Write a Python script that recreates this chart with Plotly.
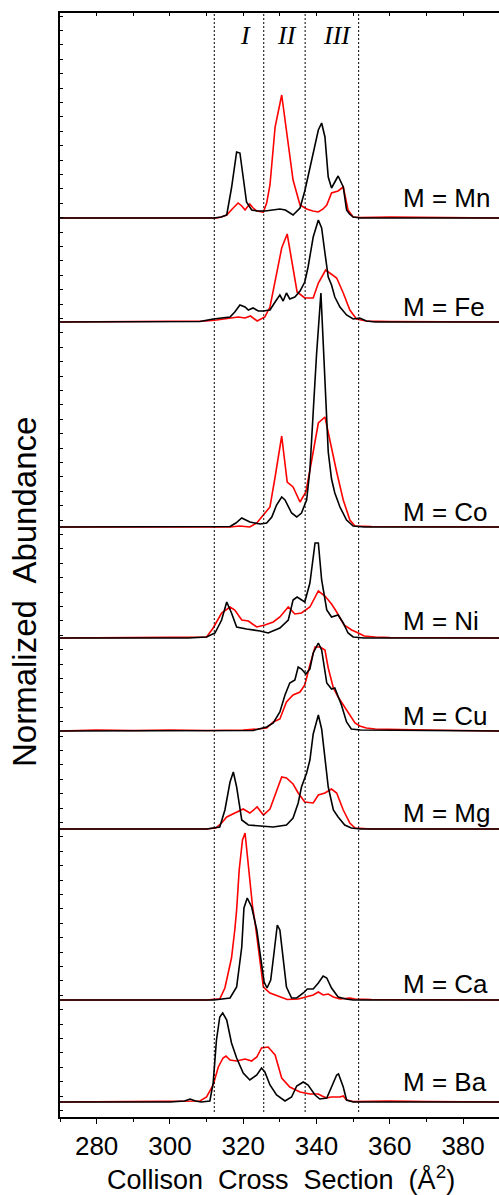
import plotly.graph_objects as go

# ---------------- data (collision cross section in Å², normalized abundance in arbitrary units)
metals = ["Mn", "Fe", "Co", "Ni", "Cu", "Mg", "Ca", "Ba"]
offsets = [899, 795, 590, 479, 386, 288, 117, 15]
label_lift = [20, 15, 15, 17, 15, 16, 16, 20]

mn_black_x = [270, 300, 312, 314, 315.5, 316.8, 318.2, 319.1, 320, 320.9, 322.3, 324, 326, 328, 330, 331.5, 333.6, 335.5, 336.8, 338.2, 339.5, 340.5, 341.4, 342.3, 343.2, 344.1, 345, 345.9, 347.3, 348.2, 349, 350, 352, 390]
mn_black_y = [0, 0, 0, 1, 3, 30, 66, 65, 40, 16, 8, 7, 7, 8, 9, 8, 3, 10, 27, 50, 72, 88, 95, 81, 41, 30, 36, 42, 31, 8, 4, 1, 0, 0]
mn_red_x = [270, 300, 312.7, 314, 315.5, 317, 318.6, 319.6, 320.5, 320.9, 321.8, 322.7, 323.7, 325.5, 326.4, 327.3, 328.7, 330.5, 331.8, 333.6, 335.5, 337.3, 339, 340.5, 341.8, 342.8, 344.1, 345.9, 347.3, 348.6, 350, 352, 360, 370, 390]
mn_red_y = [0, 0.5, 0, 1, 3, 9, 15, 12, 8, 10, 14, 10, 7, 6, 15, 33, 91, 123, 85, 38, 13, 9, 7, 6, 9, 13, 25, 27, 31, 8, 1, 0.5, 1, 0.5, 0]

fe_black_x = [270, 300, 308.2, 311.8, 314, 316.4, 317.7, 319.1, 320.5, 321.4, 322.7, 324.1, 325.5, 327.3, 328.7, 330, 330.9, 331.8, 332.7, 334.1, 335.5, 336.8, 337.7, 339.1, 340.5, 341.4, 342.3, 343.2, 344.1, 345, 346.4, 348.2, 350, 351.8, 353.6, 356, 390]
fe_black_y = [0, 0, 0.5, 3, 4, 5, 10, 17, 15, 12, 14, 11, 11, 12, 20, 27, 21, 29, 23, 25, 31, 40, 55, 85, 102, 94, 69, 45, 37, 25, 15, 7, 3, 4, 1, 0, 0]
fe_red_x = [270, 305, 310, 312.7, 316.4, 318.6, 320.5, 322, 323.8, 325.9, 327.3, 329.1, 330.5, 332, 333.2, 334.7, 336.8, 339.1, 340.5, 342.5, 345.5, 347.3, 349.1, 350.9, 353.6, 360, 390]
fe_red_y = [0, 0.5, 1, 2, 4, 5, 4, 6, 1, 5, 15, 49, 74, 88, 62, 30, 24, 24, 39, 52, 44, 29, 12, 3, 1, 0.5, 0]

co_black_x = [270, 310, 316.4, 318, 319.6, 321.8, 324.6, 326.4, 327.8, 329.1, 330.5, 331.4, 333.2, 334.6, 335.9, 337.3, 338.2, 339.1, 340, 341.2, 342.3, 343.2, 344.1, 345, 346.4, 348.2, 350, 353, 390]
co_black_y = [0, 0, 0.5, 4, 9, 5, 3, 4, 10, 22, 30, 27, 14, 10, 14, 27, 57, 115, 172, 234, 150, 75, 48, 34, 20, 7, 1, 0, 0]
co_red_x = [270, 316.4, 319, 321.8, 323.7, 325.5, 327.3, 328.7, 330.5, 332, 333.6, 335.5, 337.1, 338.7, 340.5, 342.3, 344.1, 345.5, 347.3, 349.1, 350.5, 355, 390]
co_red_y = [0, 0, 1, 0, 4, 12, 20, 50, 91, 45, 40, 25, 35, 67, 104, 110, 77, 55, 27, 7, 1, 0.5, 0]

ni_black_x = [270, 305, 310, 312.3, 314.1, 315.5, 316.8, 318.2, 320.9, 324.6, 326.8, 330, 332.3, 333.6, 334.7, 336.8, 338.2, 339.6, 340.5, 341.4, 342.8, 344.1, 345.9, 347.3, 348.6, 350, 353, 390]
ni_black_y = [0, 0, 1, 5, 18, 36, 25, 11, 9, 7, 5, 10, 18, 38, 41, 36, 55, 95, 95, 58, 28, 21, 23, 15, 5, 1, 0, 0]
ni_red_x = [270, 305, 310, 311.8, 314.1, 316.4, 317.7, 319.6, 321.4, 323.7, 325.9, 328.2, 330, 332.3, 334.1, 335.9, 338.2, 340.5, 342.3, 344.1, 345.5, 347.5, 349.6, 351.4, 353, 356, 360, 390]
ni_red_y = [0, 0.5, 1, 10, 25, 31, 28, 18, 17, 11, 13, 16, 21, 31, 24, 25, 31, 47, 42, 34, 26, 13, 8, 5, 2, 1, 0.5, 0]

cu_black_x = [270, 315, 322.7, 326.4, 328.2, 330, 331.4, 332.7, 334.1, 335, 335.9, 337.1, 338.2, 339.1, 340.5, 341.4, 342.8, 344.1, 345, 346.8, 348.2, 349.5, 352, 390]
cu_black_y = [0, 0, 0.5, 4, 8, 19, 36, 48, 51, 64, 62, 57, 62, 78, 88, 81, 48, 42, 43, 26, 9, 2, 1, 0]
cu_red_x = [270, 280, 290, 300, 310, 320, 324, 326.4, 328.2, 330, 331.8, 333.6, 335.5, 336.8, 338.2, 339.6, 341, 342.3, 343.2, 344.6, 345.9, 348.2, 350.5, 351.8, 353.6, 356, 360, 370, 390]
cu_red_y = [0, 1, 0.5, 1, 0.5, 1, 2, 3, 9, 12, 29, 36, 39, 46, 66, 84, 84, 81, 63, 43, 34, 21, 8, 5, 3, 2, 1.5, 1, 0]

mg_black_x = [270, 310, 313.6, 315, 316.4, 317.3, 318.2, 319.6, 321.4, 325, 328.2, 331.8, 333.6, 335, 335.9, 337.3, 338.2, 339.1, 340.5, 341.4, 342.3, 343.2, 344.6, 345.9, 347.7, 349.5, 352, 390]
mg_black_y = [0, 0, 2, 19, 47, 57, 42, 9, 4, 3, 2, 4, 11, 26, 42, 56, 69, 95, 114, 100, 69, 42, 19, 12, 4, 1, 0, 0]
mg_red_x = [270, 310, 312.5, 314.1, 315.5, 318.2, 320, 321.8, 323.8, 325.5, 327.3, 329, 330.5, 331.8, 333.6, 335, 336.8, 339.1, 340.5, 342.3, 344.1, 345.5, 347.3, 349.1, 350.5, 355, 390]
mg_red_y = [0, 0, 1, 6, 12, 17, 20, 16, 22, 14, 20, 37, 52, 51, 45, 36, 27, 26, 34, 36, 40, 36, 19, 6, 1, 0, 0]

ca_black_x = [270, 312, 316.4, 318.2, 319.6, 320.2, 321.1, 322.3, 323.7, 325, 325.7, 326.5, 327.5, 328.4, 329.3, 330, 330.9, 331.8, 333.2, 334.6, 336.4, 337.5, 339.1, 340.5, 341.8, 342.8, 344.1, 345.9, 348, 350, 390]
ca_black_y = [0, 0, 2, 13, 53, 92, 102, 93, 70, 37, 18, 12, 20, 47, 75, 70, 43, 13, 2, 2, 7, 11, 11, 17, 24, 22, 12, 3, 1, 0, 0]
ca_red_x = [270, 310, 312.7, 313.6, 315, 316.8, 317.7, 318.2, 318.9, 319.8, 320.5, 321.2, 321.8, 322.5, 323.2, 324.6, 325.5, 327.3, 330, 332, 335, 337.3, 339.1, 340.5, 341.8, 343.2, 344.6, 346.4, 349.1, 350.5, 355, 390]
ca_red_y = [0, 0, 1, 1, 12, 42, 70, 90, 130, 160, 167, 140, 118, 95, 78, 37, 13, 7, 3, 0.5, 1, 3, 5, 8, 5, 6, 3, 1, 2, 1, 0.5, 0]

ba_black_x = [270, 300, 304, 305.5, 307, 308.5, 310.9, 311.8, 312.7, 313.6, 314.4, 315.5, 316.8, 318.2, 320, 321.8, 323.7, 325, 325.9, 327.3, 329.1, 331.4, 333.2, 334.6, 336.4, 337.7, 339.6, 340.9, 342.8, 344.1, 345.5, 346, 347.3, 348.2, 350, 390]
ba_black_y = [0, 0, 1, 3, 1, 0, 1, 19, 62, 85, 89, 82, 59, 44, 29, 22, 27, 34, 30, 17, 7, 1, 5, 16, 20, 17, 7, 3, 4, 15, 27, 28, 15, 2, 0, 0]
ba_red_x = [270, 300, 306, 308.2, 310, 311.8, 313.2, 314.5, 315.3, 316.4, 318.2, 320.5, 322.3, 323.7, 325, 326.8, 328.7, 330.5, 332.7, 335.5, 338.2, 340.5, 341.5, 342.8, 344, 346.4, 347.3, 348.2, 350, 360, 370, 390]
ba_red_y = [0, 0.5, 0.5, 1, 5, 17, 35, 44, 46, 42, 41, 43, 41, 45, 54, 55, 47, 24, 15, 10, 8, 8, 6, 4, 5, 5, 6, 2, 0.5, 1, 0.5, 0]

black_series = [(mn_black_x, mn_black_y), (fe_black_x, fe_black_y), (co_black_x, co_black_y),
                (ni_black_x, ni_black_y), (cu_black_x, cu_black_y), (mg_black_x, mg_black_y),
                (ca_black_x, ca_black_y), (ba_black_x, ba_black_y)]
red_series = [(mn_red_x, mn_red_y), (fe_red_x, fe_red_y), (co_red_x, co_red_y),
              (ni_red_x, ni_red_y), (cu_red_x, cu_red_y), (mg_red_x, mg_red_y),
              (ca_red_x, ca_red_y), (ba_red_x, ba_red_y)]

region_bounds = [312.1, 325.6, 336.9, 351.5]
region_labels = ["I", "II", "III"]
region_label_x = [320.65, 331.85, 345.5]

x_ticks = [280, 300, 320, 340, 360, 380]

# ---------------- figure
fig = go.Figure()

for i, m in enumerate(metals):
    off = offsets[i]
    rx, ry = red_series[i]
    fig.add_trace(go.Scatter(x=rx, y=[off + v for v in ry], mode="lines",
                             line=dict(color="#ff0000", width=1.6), showlegend=False,
                             hoverinfo="skip"))
for i, m in enumerate(metals):
    off = offsets[i]
    bx, by = black_series[i]
    fig.add_trace(go.Scatter(x=bx, y=[off + v for v in by], mode="lines",
                             line=dict(color="#000000", width=1.6), showlegend=False,
                             hoverinfo="skip"))

# trace bound to the top axis (keeps the top ticks drawn)
fig.add_trace(go.Scatter(x=[x_ticks[0]], y=[None], xaxis="x2", mode="lines",
                         showlegend=False, hoverinfo="skip"))

for xb in region_bounds:
    fig.add_shape(type="line", x0=xb, x1=xb, y0=5, y1=1104, xref="x", yref="y",
                  line=dict(color="#000000", width=1, dash="2px,2px"))

for lbl, lx in zip(region_labels, region_label_x):
    fig.add_annotation(x=lx, y=1082, text=lbl, showarrow=False, xanchor="center",
                       yanchor="middle",
                       font=dict(family="Liberation Serif", size=26, color="#000000",
                                 style="italic"))

for i, m in enumerate(metals):
    fig.add_annotation(x=363.0, y=offsets[i] + label_lift[i], text="M = " + m,
                       showarrow=False, xanchor="left", yanchor="middle",
                       font=dict(family="Liberation Sans, Arial", size=26, color="#000000"))

# plot area spans page x 60..499, y 13..1117 (page margin removed below)
ML, MR, MT, MB = 60, 0, 13, 78
PW = 499 - ML - MR
PH = 1195 - MT - MB
fig.add_annotation(xref="paper", yref="paper", x=(281 - ML) / PW, y=-(1178 - (MT + PH)) / PH,
                   text="Collison  Cross  Section  (Å<sup>2</sup>)", showarrow=False,
                   xanchor="center", yanchor="middle",
                   font=dict(family="Liberation Sans, Arial", size=27, color="#000000"))
fig.add_annotation(xref="paper", yref="paper", x=(25 - ML) / PW, y=(MT + PH - 592) / PH,
                   text="Normalized\u00a0 Abundance", showarrow=False, textangle=-90,
                   xanchor="center", yanchor="middle",
                   font=dict(family="Liberation Sans, Arial", size=33, color="#000000"))

XR = [270, 389.8]
fig.update_layout(
    width=499, height=1195,
    margin=dict(l=ML, r=MR, t=MT, b=MB, autoexpand=False),
    paper_bgcolor="white", plot_bgcolor="white",
    font=dict(family="Liberation Sans, Arial", color="#000000"),
    xaxis=dict(range=XR, showgrid=False, zeroline=False, showline=True, automargin=False,
               linecolor="#000000", linewidth=1.5, ticks="outside", ticklen=5,
               tickwidth=1.2, tickcolor="#000000", tickvals=x_ticks,
               tickfont=dict(size=26),
               minor=dict(ticks="outside", ticklen=3, tickwidth=1, dtick=10,
                          tick0=270, tickcolor="#000000")),
    xaxis2=dict(range=XR, overlaying="x", side="top", showgrid=False, zeroline=False,
                showline=True, linecolor="#000000", linewidth=1.5, ticks="inside",
                ticklen=3, tickwidth=1, tickcolor="#000000", dtick=10, tick0=270,
                showticklabels=False, automargin=False),
    yaxis=dict(range=[0, 1104], showgrid=False, zeroline=False, showline=True,
               automargin=False,
               linecolor="#000000", linewidth=1.5, ticks="inside", ticklen=3,
               tickwidth=1, tickcolor="#000000", tick0=6.5, dtick=14.4,
               showticklabels=False),
)

fig.write_html("out.html", config={"displayModeBar": False},
               post_script="document.body.style.margin='0';document.body.style.overflow='hidden';")
